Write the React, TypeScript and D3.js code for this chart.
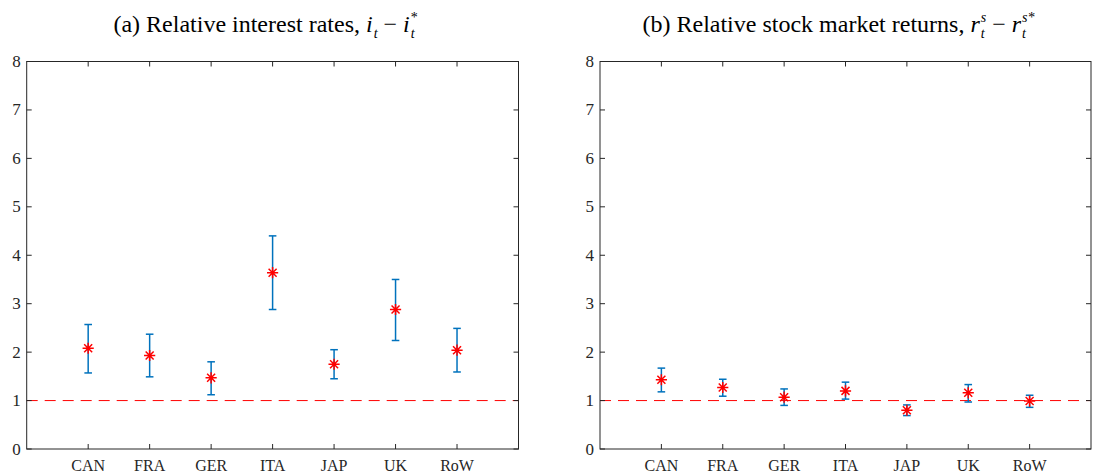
import React, { useRef, useEffect } from 'react';
import * as d3 from 'd3';

// countries on the x axis
const countries = ['CAN', 'FRA', 'GER', 'ITA', 'JAP', 'UK', 'RoW'];

// panel (a): relative interest rates
const rateMid = [2.08, 1.93, 1.47, 3.64, 1.75, 2.88, 2.04];
const rateLow = [1.57, 1.49, 1.12, 2.88, 1.45, 2.24, 1.59];
const rateHigh = [2.57, 2.37, 1.8, 4.4, 2.05, 3.5, 2.49];

// panel (b): relative stock market returns
const stockMid = [1.43, 1.27, 1.07, 1.2, 0.8, 1.16, 0.99];
const stockLow = [1.18, 1.09, 0.9, 1.03, 0.69, 0.97, 0.86];
const stockHigh = [1.67, 1.44, 1.24, 1.38, 0.91, 1.33, 1.11];

const yTicks = [0, 1, 2, 3, 4, 5, 6, 7, 8];
const refLevel = 1;

const W = 1093;
const H = 476;

function App() {
  const svgRef = useRef<SVGSVGElement>(null);

  useEffect(() => {
    const svg = d3.select(svgRef.current);
    svg.selectAll('*').remove();

    const top = 61.5;
    const bottom = 449;
    const axisColor = '#262626';
    const serif = '"Liberation Serif", "DejaVu Serif", serif';

    const y = d3.scaleLinear().domain([0, 8]).range([bottom, top]);

    // title built from pieces; script pieces carry sup/sub stacked at one x
    function drawTitle(g: any, cx: number, baseline: number, pieces: any[]) {
      const tg = g.append('g');
      let pos = 0;
      pieces.forEach(p => {
        if (p.sup !== undefined || p.sub !== undefined) {
          let w = 0;
          if (p.sup) {
            const s = tg.append('text').attr('x', pos).attr('y', baseline - 10)
              .attr('font-size', 14).attr('font-style', p.supItalic ? 'italic' : 'normal').text(p.sup);
            w = Math.max(w, (s.node() as SVGTextElement).getComputedTextLength());
          }
          if (p.sub) {
            const s = tg.append('text').attr('x', pos).attr('y', baseline + 6)
              .attr('font-size', 14).attr('font-style', 'italic').text(p.sub);
            w = Math.max(w, (s.node() as SVGTextElement).getComputedTextLength());
          }
          pos += w + (p.after || 0);
        } else {
          const s = tg.append('text').attr('x', pos).attr('y', baseline)
            .attr('font-size', 24).attr('font-style', p.italic ? 'italic' : 'normal')
            .style('white-space', 'pre').text(p.t);
          pos += (s.node() as SVGTextElement).getComputedTextLength() + (p.after || 0);
        }
      });
      tg.attr('font-family', serif).attr('fill', '#000')
        .attr('transform', `translate(${cx - pos / 2},0)`);
    }

    function drawPanel(left: number, right: number, mid: number[], low: number[], high: number[], titlePieces: any[]) {
      const x = d3.scaleLinear().domain([0, 8]).range([left, right]);
      const g = svg.append('g');

      // reference line
      g.append('line')
        .attr('x1', x(0)).attr('x2', x(8))
        .attr('y1', y(refLevel)).attr('y2', y(refLevel))
        .attr('stroke', '#ff0000')
        .attr('stroke-width', 1)
        .attr('stroke-dasharray', '11,7');

      // box
      g.append('rect')
        .attr('x', left).attr('y', top)
        .attr('width', right - left).attr('height', bottom - top)
        .attr('fill', 'none')
        .attr('stroke', axisColor)
        .attr('stroke-width', 1);

      // y ticks (left + right, inside)
      yTicks.forEach(t => {
        g.append('line')
          .attr('x1', left).attr('x2', left + 5)
          .attr('y1', y(t)).attr('y2', y(t))
          .attr('stroke', axisColor);
        g.append('line')
          .attr('x1', right).attr('x2', right - 5)
          .attr('y1', y(t)).attr('y2', y(t))
          .attr('stroke', axisColor);
        g.append('text')
          .attr('x', left - 6)
          .attr('y', y(t) + 5.5)
          .attr('text-anchor', 'end')
          .attr('font-family', serif)
          .attr('font-size', 17)
          .attr('fill', axisColor)
          .text(t);
      });

      // x ticks (bottom + top, inside)
      countries.forEach((c, i) => {
        const px = x(i + 1);
        g.append('line')
          .attr('x1', px).attr('x2', px)
          .attr('y1', bottom).attr('y2', bottom - 5)
          .attr('stroke', axisColor);
        g.append('line')
          .attr('x1', px).attr('x2', px)
          .attr('y1', top).attr('y2', top + 5)
          .attr('stroke', axisColor);
        g.append('text')
          .attr('x', px)
          .attr('y', 471)
          .attr('text-anchor', 'middle')
          .attr('font-family', serif)
          .attr('font-size', 16)
          .attr('fill', axisColor)
          .text(c);
      });

      // error bars
      const bars = g.selectAll('.err')
        .data(countries.map((c, i) => ({ c, i, lo: low[i], hi: high[i], m: mid[i] })))
        .enter()
        .append('g')
        .attr('class', 'err')
        .attr('stroke', '#0072BD')
        .attr('stroke-width', 1.5);
      bars.append('line')
        .attr('x1', d => x(d.i + 1)).attr('x2', d => x(d.i + 1))
        .attr('y1', d => y(d.lo)).attr('y2', d => y(d.hi));
      bars.append('line')
        .attr('x1', d => x(d.i + 1) - 3.8).attr('x2', d => x(d.i + 1) + 3.8)
        .attr('y1', d => y(d.lo)).attr('y2', d => y(d.lo));
      bars.append('line')
        .attr('x1', d => x(d.i + 1) - 3.8).attr('x2', d => x(d.i + 1) + 3.8)
        .attr('y1', d => y(d.hi)).attr('y2', d => y(d.hi));

      // asterisk markers
      const r = 5.6;
      const rd = 4;
      g.selectAll('.star')
        .data(mid.map((m, i) => ({ m, i })))
        .enter()
        .append('path')
        .attr('class', 'star')
        .attr('d', d => {
          const cx = x(d.i + 1);
          const cy = y(d.m);
          return `M${cx - r},${cy}L${cx + r},${cy}M${cx},${cy - r}L${cx},${cy + r}` +
            `M${cx - rd},${cy - rd}L${cx + rd},${cy + rd}M${cx - rd},${cy + rd}L${cx + rd},${cy - rd}`;
        })
        .attr('stroke', '#ff0000')
        .attr('stroke-width', 1.5)
        .attr('fill', 'none');

      drawTitle(g, (left + right) / 2 - 7, 32, titlePieces);
    }

    drawPanel(26.7, 518.5, rateMid, rateLow, rateHigh, [
      { t: '(a) Relative interest rates, ' },
      { t: 'i', italic: true, after: 1 },
      { sub: 't', after: 6 },
      { t: '\u2212', after: 6 },
      { t: 'i', italic: true, after: 1 },
      { sup: '*', sub: 't' },
    ]);

    drawPanel(600, 1091, stockMid, stockLow, stockHigh, [
      { t: '(b) Relative stock market returns, ' },
      { t: 'r', italic: true, after: 1 },
      { sup: 's', supItalic: true, sub: 't', after: 6 },
      { t: '\u2212', after: 6 },
      { t: 'r', italic: true, after: 1 },
      { sup: 's*', supItalic: true, sub: 't' },
    ]);
  }, []);

  return <svg ref={svgRef} width={W} height={H} style={{ display: 'block', position: 'absolute', left: 0, top: 0 }}></svg>;
}

export default App;
